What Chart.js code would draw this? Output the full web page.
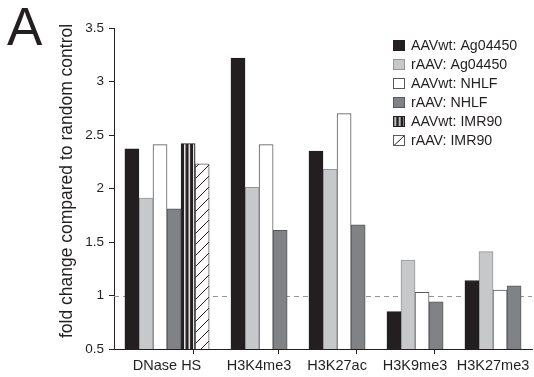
<!DOCTYPE html>
<html>
<head>
<meta charset="utf-8">
<script src="https://cdn.jsdelivr.net/npm/chart.js@4.4.0/dist/chart.umd.min.js"></script>
<style>
html, body { margin: 0; padding: 0; background: #fff; }
#wrap { position: relative; width: 534px; height: 377px; }
#chart { position: absolute; left: 0; top: 0; }
#panel { position: absolute; left: 7px; top: 0; font: 53px/53px "Liberation Sans", Arial, sans-serif; color: #231f20; }
</style>
</head>
<body>
<div id="wrap">
    <canvas id="chart" width="534" height="377"></canvas>
    <div id="panel">A</div>
</div>
<script>
// --- data ---
const categories = ['DNase HS', 'H3K4me3', 'H3K27ac', 'H3K9me3', 'H3K27me3'];
const seriesNames = ['AAVwt: Ag04450', 'rAAV: Ag04450', 'AAVwt: NHLF', 'rAAV: NHLF', 'AAVwt: IMR90', 'rAAV: IMR90'];
const aavwtAg04450 = [2.37, 3.22, 2.35, 0.85, 1.14];
const raavAg04450 = [1.91, 2.01, 2.18, 1.33, 1.41];
const aavwtNHLF = [2.41, 2.41, 2.70, 1.03, 1.05];
const raavNHLF = [1.81, 1.61, 1.66, 0.94, 1.09];
const aavwtIMR90 = [2.42, null, null, null, null];
const raavIMR90 = [2.23, null, null, null, null];
const yMin = 0.5, yMax = 3.5, yStep = 0.5;
const referenceLevel = 1;
const yTitle = 'fold change compared to random control';

const seriesValues = [aavwtAg04450, raavAg04450, aavwtNHLF, raavNHLF, aavwtIMR90, raavIMR90];

const FONT = '"Liberation Sans", Arial, Helvetica, sans-serif';
const INK = '#231f20';

// groups are as wide as the bars they hold plus a fixed gap (in bar widths)
const GAP = 1.55;
const groupSizes = categories.map((c, i) => seriesValues.filter(s => s[i] != null).length);
const groupStarts = [];
let acc = 0;
groupSizes.forEach(n => { groupStarts.push(acc); acc += n + GAP; });
const xMax = acc;

function slotX(d, i) {
    let k = 0;
    for (let j = 0; j < d; j++) if (seriesValues[j][i] != null) k++;
    return groupStarts[i] + GAP / 2 + k + 0.5;
}

// x ticks: boundaries (tick marks only) and centers (labels only)
const xTicks = [];
categories.forEach((c, i) => {
    xTicks.push({ value: groupStarts[i], label: '' });
    xTicks.push({ value: groupStarts[i] + (groupSizes[i] + GAP) / 2, label: c });
});

const canvas = document.getElementById('chart');
const ctx = canvas.getContext('2d');

function makeStripes() {
    const c = document.createElement('canvas');
    c.width = 14; c.height = 4;
    const g = c.getContext('2d');
    g.fillStyle = INK; g.fillRect(0, 0, 14, 4);
    g.fillStyle = '#fff';
    [3, 7.5, 12].forEach(x => g.fillRect(x, 0, 1.4, 4));
    return ctx.createPattern(c, 'repeat');
}

function makeHatch() {
    const c = document.createElement('canvas');
    c.width = 11; c.height = 11;
    const g = c.getContext('2d');
    g.fillStyle = '#fff'; g.fillRect(0, 0, 11, 11);
    g.strokeStyle = INK; g.lineWidth = 1;
    g.beginPath();
    g.moveTo(0, 11); g.lineTo(11, 0);
    g.moveTo(-1, 1); g.lineTo(1, -1);
    g.moveTo(10, 12); g.lineTo(12, 10);
    g.stroke();
    return ctx.createPattern(c, 'repeat');
}

const stripeFill = makeStripes();
const fills = ['#231f20', '#c7c8ca', '#ffffff', '#808285', stripeFill, makeHatch()];
const borders = ['#231f20', '#939598', '#58595b', '#58595b', '#231f20', '#58595b'];

const datasets = seriesValues.map((vals, d) => ({
    label: seriesNames[d],
    data: vals.map((v, i) => v == null ? null : { x: slotX(d, i), y: v }).filter(Boolean),
    backgroundColor: fills[d],
    borderColor: borders[d],
    borderWidth: 1,
    grouped: false,
    barPercentage: 1,
    categoryPercentage: 1,
}));

const refLine = {
    id: 'refLine',
    beforeDatasetsDraw(chart) {
        const { ctx, chartArea, scales } = chart;
        const py = Math.round(scales.y.getPixelForValue(referenceLevel)) + 0.5;
        ctx.save();
        ctx.strokeStyle = '#939598';
        ctx.lineWidth = 1;
        ctx.setLineDash([5, 4]);
        ctx.beginPath();
        ctx.moveTo(chartArea.left, py);
        ctx.lineTo(chartArea.right, py);
        ctx.stroke();
        ctx.restore();

        // line the stripe pattern up with its bar
        const el = chart.getDatasetMeta(4).data[0];
        if (el) stripeFill.setTransform(new DOMMatrix([1, 0, 0, 1, el.x - el.width / 2, 0]));
    }
};

// y title drawn by hand so it can sit where the original puts it
const yTitlePlugin = {
    id: 'yTitle',
    afterDraw(chart) {
        const { ctx } = chart;
        ctx.save();
        ctx.translate(67.5, 181);
        ctx.rotate(-Math.PI / 2);
        ctx.font = '17.5px ' + FONT;
        ctx.fillStyle = INK;
        ctx.textAlign = 'center';
        ctx.textBaseline = 'middle';
        ctx.fillText(yTitle, 0, 0);
        ctx.restore();
    }
};

const insideLegend = {
    id: 'insideLegend',
    afterDraw(chart) {
        const { ctx } = chart;
        ctx.save();
        ctx.font = '14.2px ' + FONT;
        ctx.textBaseline = 'middle';
        chart.data.datasets.forEach((ds, i) => {
            const x = 393, y = 40 + i * 19;
            let fill = ds.backgroundColor;
            if (i === 4) {
                fill = makeStripes();
                fill.setTransform(new DOMMatrix([1, 0, 0, 1, x - 1.5, 0]));
            }
            ctx.fillStyle = fill;
            ctx.fillRect(x, y, 12, 11);
            if (i === 5) {
                ctx.fillStyle = '#fff';
                ctx.fillRect(x, y, 12, 11);
                ctx.strokeStyle = INK;
                ctx.beginPath();
                ctx.moveTo(x + 1, y + 10.5);
                ctx.lineTo(x + 11, y + 1);
                ctx.stroke();
            }
            ctx.strokeStyle = ds.borderColor;
            ctx.lineWidth = 1;
            ctx.strokeRect(x + 0.5, y + 0.5, 11, 10);
            ctx.fillStyle = INK;
            ctx.fillText(ds.label, 411, y + 6);
        });
        ctx.restore();
    }
};

new Chart(ctx, {
    type: 'bar',
    data: { datasets },
    options: {
        responsive: false,
        animation: false,
        devicePixelRatio: 1,
        layout: { padding: { top: 28, right: 2, bottom: 0, left: 0 } },
        plugins: {
            legend: { display: false },
            tooltip: { enabled: false },
        },
        scales: {
            x: {
                type: 'linear',
                offset: false,
                min: 0,
                max: xMax,
                afterBuildTicks: s => { s.ticks = xTicks.map(t => ({ value: t.value })); },
                afterFit: s => { s.height = 28; },
                ticks: {
                    autoSkip: false,
                    maxRotation: 0,
                    padding: 3,
                    color: INK,
                    font: { family: FONT, size: 14.5 },
                    callback: (v, i) => xTicks[i] ? xTicks[i].label : '',
                },
                grid: {
                    drawOnChartArea: false,
                    tickLength: 5,
                    color: c => (xTicks[c.index] && xTicks[c.index].label === '') ? INK : 'rgba(0,0,0,0)',
                },
                border: { color: INK, width: 1 },
            },
            y: {
                min: yMin,
                max: yMax,
                afterFit: s => { s.width = 114; },
                ticks: {
                    stepSize: yStep,
                    padding: 5,
                    color: INK,
                    font: { family: FONT, size: 13.5 },
                    callback: v => String(+v.toFixed(1)),
                },
                grid: { drawOnChartArea: false, tickLength: 5, color: INK },
                border: { color: INK, width: 1 },
            },
        },
    },
    plugins: [refLine, yTitlePlugin, insideLegend],
});
</script>
</body>
</html>
